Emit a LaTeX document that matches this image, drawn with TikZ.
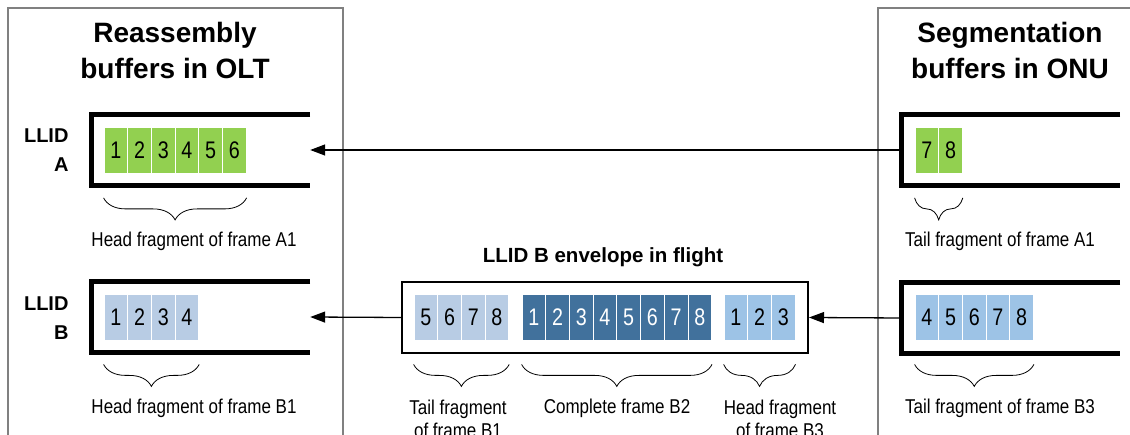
\documentclass[tikz,border=0pt]{standalone}
\usepackage{fontspec}
\setmainfont{Liberation Sans}
\newfontfamily\cellfont[FakeStretch=0.82]{Liberation Sans}
\newfontfamily\lblfont[FakeStretch=0.85]{Liberation Sans}
\usetikzlibrary{arrows.meta,positioning,decorations.pathreplacing}
\definecolor{fraggreen}{HTML}{92D050}
\definecolor{fragpale}{HTML}{B8CCE4}
\definecolor{fragmid}{HTML}{9DC3E6}
\definecolor{fragdark}{HTML}{41719C}
\definecolor{panelgray}{HTML}{808080}
\tikzset{
  cell/.style={rectangle, draw=white, line width=0.8pt, minimum width=23.7pt, minimum height=46pt, inner sep=0pt, font=\cellfont\fontsize{24}{24}\selectfont},
  greencell/.style={cell, fill=fraggreen},
  palecell/.style={cell, fill=fragpale},
  midcell/.style={cell, fill=fragmid},
  darkcell/.style={cell, fill=fragdark, text=white},
  buffer/.style={rectangle, minimum width=218pt, minimum height=70pt, inner sep=0pt},
  wall/.style={line width=5pt},
  envelope/.style={rectangle, draw=black, line width=2pt, minimum width=406pt, minimum height=71pt},
  panel/.style={draw=panelgray, line width=1.2pt},
  title/.style={font=\bfseries\fontsize{28}{36}\selectfont, align=center},
  llid/.style={font=\bfseries\fontsize{20}{29}\selectfont, align=right, anchor=east},
  lbl/.style={font=\lblfont\fontsize{20}{23}\selectfont, align=center},
  arrow/.style={-{Triangle[length=15pt,width=11pt]}, line width=1.3pt},
  brc/.style={decorate, decoration={brace, amplitude=22pt}, line width=0.8pt}
}

\begin{document}
\begin{tikzpicture}[x=1pt, y=-1pt]
  \useasboundingbox (0,0) rectangle (1130,435);
  \clip (0,0) rectangle (1130,435);
  % side panels
  \draw[panel] (8,445) -- (8,8) -- (343,8) -- (343,445);
  \draw[panel] (878,445) -- (878,8) -- (1140,8);
  \node[title] (olt) at (175,50) {Reassembly\\buffers in OLT};
  \node[title] (onu) at (1010,50) {Segmentation\\buffers in ONU};
  \node[llid] (llida) at (72,150) {LLID\\A};
  \node[llid] (llidb) at (72,318) {LLID\\B};

  % buffers
  \node[buffer] (olta) at (201,150) {};
  \node[buffer] (oltb) at (201,317) {};
  \node[buffer] (onua) at (1011,150) {};
  \node[buffer] (onub) at (1011,318) {};
  \node[envelope] (env) at (605,317.5) {};
  \node[font=\bfseries\fontsize{20.5}{24}\selectfont] (envt) at (603,257) {LLID B envelope in flight};

  \draw[arrow] (onua.west) -- (olta.east);
  \draw[arrow] (onub.west) -- (env.east);
  \draw[arrow] (env.west) -- (oltb.east);

  \draw[wall] (olta.north east) -- (olta.north west) -- (olta.south west) -- (olta.south east);
  \draw[wall] (oltb.north east) -- (oltb.north west) -- (oltb.south west) -- (oltb.south east);
  \draw[wall] (onua.north east) -- (onua.north west) -- (onua.south west) -- (onua.south east);
  \draw[wall] (onub.north east) -- (onub.north west) -- (onub.south west) -- (onub.south east);

  % fragments
  \foreach \i in {1,...,6}
    \node[greencell] (a\i) at ({104+23.7*(\i-0.5)},150.5) {\i};
  \foreach \i in {1,...,4}
    \node[palecell] (b\i) at ({104+23.7*(\i-0.5)},317) {\i};
  \foreach \n [count=\i] in {7,8}
    \node[greencell] (ra\i) at ({915+23.7*(\i-0.5)},150.5) {\n};
  \foreach \n [count=\i] in {4,...,8}
    \node[midcell] (rb\i) at ({915+23.7*(\i-0.5)},317) {\n};
  \foreach \n [count=\i] in {5,...,8}
    \node[palecell] (t\i) at ({414+23.7*(\i-0.5)},317) {\n};
  \foreach \i in {1,...,8}
    \node[darkcell] (c\i) at ({522+23.7*(\i-0.5)},317) {\i};
  \foreach \i in {1,...,3}
    \node[midcell] (h\i) at ({724+23.7*(\i-0.5)},317) {\i};

  % braces
  \draw[brc] ([yshift=-24pt]a6.south east) -- ([yshift=-24pt]a1.south west);
  \draw[brc] ([yshift=-24pt]ra2.south east) -- ([yshift=-24pt]ra1.south west);
  \draw[brc] ([yshift=-24pt]b4.south east) -- ([yshift=-24pt]b1.south west);
  \draw[brc] ([yshift=-24pt]rb5.south east) -- ([yshift=-24pt]rb1.south west);
  \draw[brc] ([yshift=-24pt]t4.south east) -- ([yshift=-24pt]t1.south west);
  \draw[brc] ([yshift=-24pt]c8.south east) -- ([yshift=-24pt]c1.south west);
  \draw[brc] ([yshift=-24pt]h3.south east) -- ([yshift=-24pt]h1.south west);

  \node[lbl] (hfa1) at (194,241) {Head fragment of frame A1};
  \node[lbl] (tfa1) at (1000,241) {Tail fragment of frame A1};
  \node[lbl] (hfb1) at (194,408) {Head fragment of frame B1};
  \node[lbl] (tfb3) at (1000,408) {Tail fragment of frame B3};
  \node[lbl, anchor=north] (tfb1) at (458,396) {Tail fragment\\of frame B1};
  \node[lbl] (cfb2) at (617,408) {Complete frame B2};
  \node[lbl, anchor=north] (hfb3) at (780,396) {Head fragment\\of frame B3};
\end{tikzpicture}
\end{document}
